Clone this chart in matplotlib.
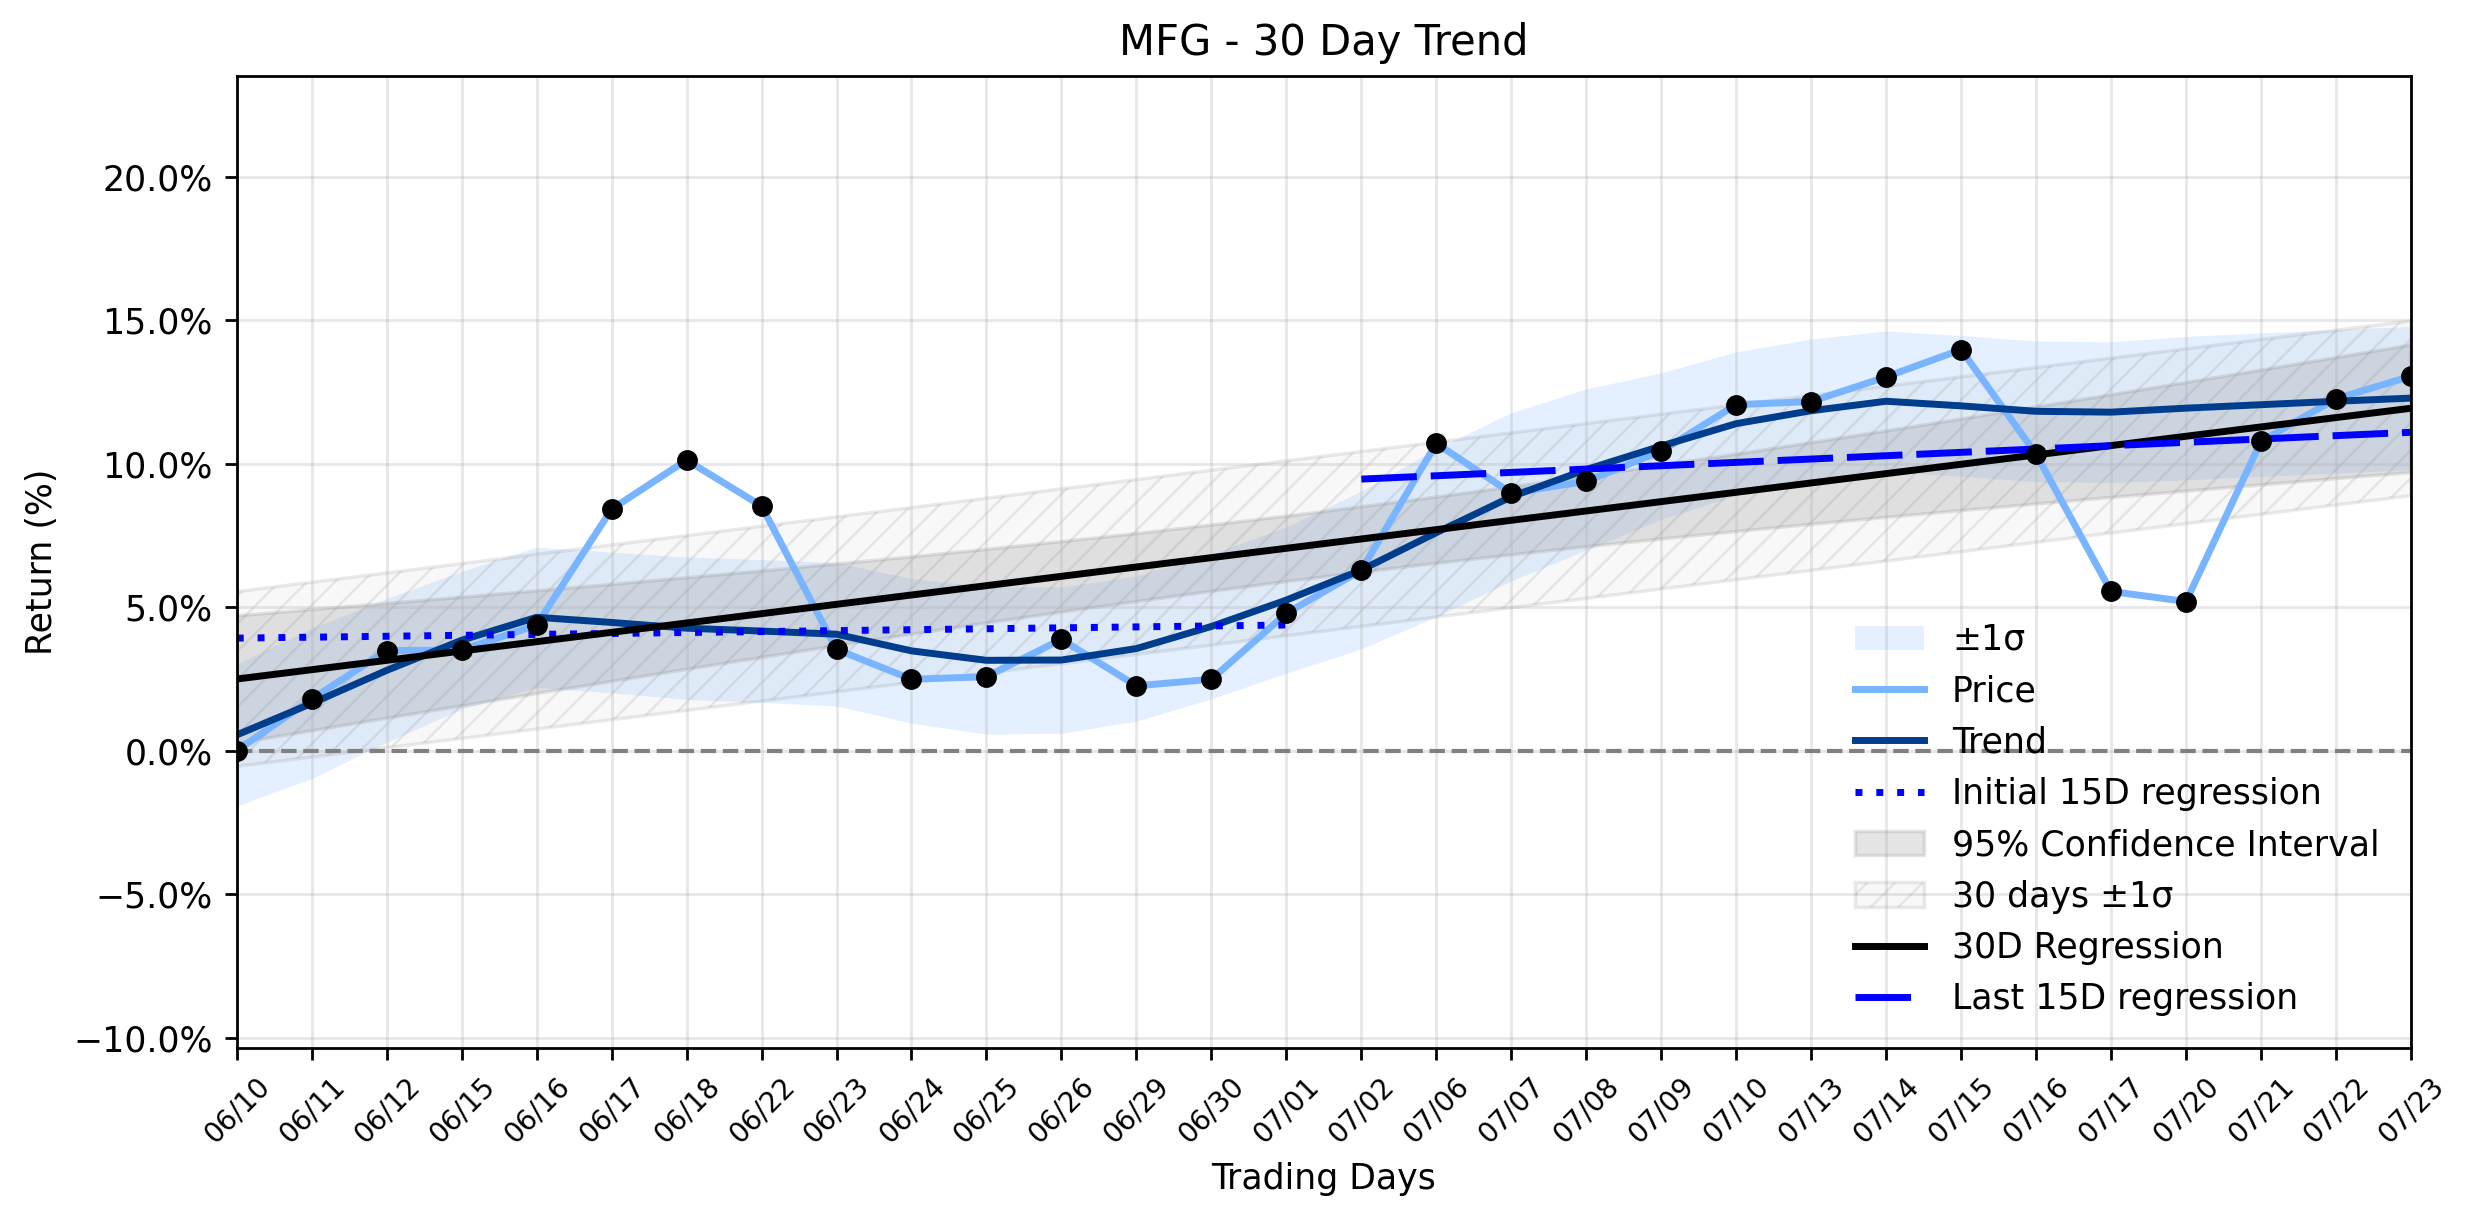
import numpy as np
import matplotlib
matplotlib.use("Agg")
import matplotlib.pyplot as plt
from matplotlib.ticker import PercentFormatter, MultipleLocator

# trading days
dates = ['06/10', '06/11', '06/12', '06/15', '06/16', '06/17', '06/18', '06/22',
         '06/23', '06/24', '06/25', '06/26', '06/29', '06/30', '07/01', '07/02',
         '07/06', '07/07', '07/08', '07/09', '07/10', '07/13', '07/14', '07/15',
         '07/16', '07/17', '07/20', '07/21', '07/22', '07/23']

# cumulative return (%)
price = [0.0, 1.8, 3.49, 3.51, 4.38, 8.42, 10.13, 8.53, 3.53, 2.49,
         2.58, 3.88, 2.26, 2.49, 4.79, 6.29, 10.71, 8.98, 9.39, 10.44,
         12.06, 12.17, 13.03, 13.98, 10.34, 5.55, 5.2, 10.78, 12.27, 13.05]

# smoothed trend
trend = [0.55, 1.65, 2.8, 3.85, 4.65, 4.47, 4.27, 4.17, 4.06, 3.48,
         3.15, 3.16, 3.56, 4.33, 5.25, 6.3, 7.6, 8.85, 9.8, 10.62,
         11.4, 11.85, 12.18, 12.02, 11.83, 11.8, 11.94, 12.06, 12.18, 12.29]

# +/- 1 sigma around the trend
sigma = [2.47, 2.62, 2.5, 2.4, 2.45, 2.45, 2.48, 2.49, 2.5, 2.52,
         2.57, 2.55, 2.53, 2.52, 2.55, 2.75, 2.93, 2.93, 2.81, 2.55,
         2.5, 2.5, 2.45, 2.45, 2.45, 2.45, 2.5, 2.5, 2.5, 2.5]

x = np.arange(len(dates))
y = np.array(price)
tr = np.array(trend)
sg = np.array(sigma)

# 30 day regression with confidence interval
n = len(x)
slope, icpt = np.polyfit(x, y, 1)
reg = icpt + slope * x
resid = y - reg
s = np.sqrt(np.sum(resid ** 2) / (n - 2))
sxx = np.sum((x - x.mean()) ** 2)
t_val = 2.048
ci = t_val * s * np.sqrt(1 / n + (x - x.mean()) ** 2 / sxx)

# 15 day regressions
x1, y1 = x[:15], y[:15]
p1 = np.polyfit(x1, y1, 1)
x2, y2 = x[15:], y[15:]
p2 = np.polyfit(x2, y2, 1)

DPI = 250
plt.rcParams['hatch.linewidth'] = 0.7
fig = plt.figure(figsize=(2474 / DPI, 1224 / DPI), dpi=DPI)
ax = fig.add_axes([0.0957, 0.1441, 0.9745 - 0.0957, 0.9382 - 0.1441])

ax.fill_between(x, tr - sg, tr + sg, color='#78b4ff', alpha=0.2, linewidth=0, label='±1σ')
ax.plot(x, y, color='#78b4ff', lw=2, label='Price')
ax.plot(x, tr, color='#003d8c', lw=2, label='Trend')
ax.plot(x1, np.polyval(p1, x1), color='blue', lw=2, linestyle=(0, (1, 2)),
        label='Initial 15D regression')
ax.fill_between(x, reg - ci, reg + ci, color='gray', alpha=0.2,
                label='95% Confidence Interval')
ax.fill_between(x, reg - s, reg + s, facecolor=(0.5, 0.5, 0.5, 0.05),
                edgecolor=(0.5, 0.5, 0.5, 0.16), hatch='///',
                label='30 days ±1σ')
ax.plot(x, reg, color='black', lw=2, label='30D Regression')
ax.plot(x2, np.polyval(p2, x2), color='blue', lw=2, linestyle=(0, (8, 2)),
        label='Last 15D regression')
ax.plot(x, y, 'o', color='black', ms=5, zorder=5)
ax.axhline(0, color='gray', linestyle='--', lw=1.2)

ax.set_xlim(0, n - 1)
ax.set_ylim(-10.35, 23.53)
ax.set_xticks(x)
ax.set_xticklabels(dates, rotation=45, fontsize=8)
ax.yaxis.set_major_locator(MultipleLocator(5))
ax.yaxis.set_major_formatter(PercentFormatter(xmax=100, decimals=1))
ax.grid(True, alpha=0.3)

ax.set_title('MFG - 30 Day Trend')
ax.set_xlabel('Trading Days')
ax.set_ylabel('Return (%)')
ax.legend(loc='lower right', frameon=False)

fig.savefig('out.png', dpi=DPI)
